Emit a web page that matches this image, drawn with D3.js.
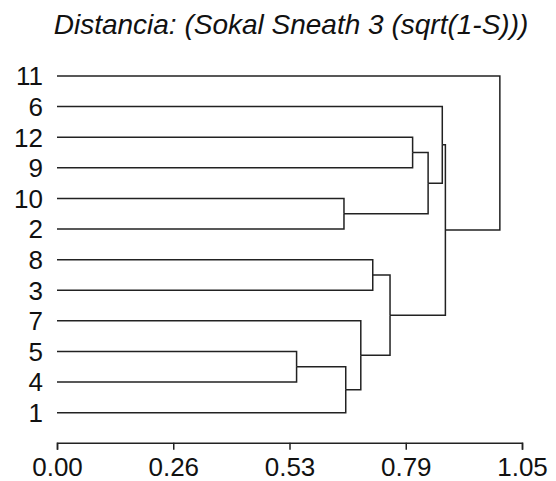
<!DOCTYPE html>
<html>
<head>
<meta charset="utf-8">
<script src="https://cdn.jsdelivr.net/npm/d3@7"></script>
<style>
  body { margin: 0; background: #fff; }
  text { font-family: "Liberation Sans", Arial, sans-serif; fill: #111; }
</style>
</head>
<body>
<div id="chart"></div>
<script>
// leaf order top to bottom
const leaves = ['11', '6', '12', '9', '10', '2', '8', '3', '7', '5', '4', '1'];

// merges: [left, right, height]; numbers point to earlier merges
const merges = [
  ['5', '4', 0.541],
  [0, '1', 0.652],
  ['7', 1, 0.686],
  ['8', '3', 0.713],
  [3, 2, 0.752],
  ['10', '2', 0.648],
  ['12', '9', 0.803],
  [6, 5, 0.838],
  ['6', 7, 0.870],
  [8, 4, 0.877],
  ['11', 9, 1.000]
];

const tickValues = [0, 0.2625, 0.525, 0.7875, 1.05];
const tickLabels = ['0.00', '0.26', '0.53', '0.79', '1.05'];
const title = 'Distancia: (Sokal Sneath 3 (sqrt(1-S)))';

const width = 556, height = 481;

const svg = d3.select('#chart').append('svg')
  .attr('width', width)
  .attr('height', height);

const x = d3.scaleLinear().domain([0, 1.05]).range([57, 522]);
const y = d3.scalePoint().domain(leaves).range([76, 412.7]);

// position of any node (leaf name or merge index)
const nodes = merges.map(() => null);
function pos(k) {
  if (typeof k === 'string') return {h: 0, y: y(k)};
  return nodes[k];
}
merges.forEach((m, i) => {
  const a = pos(m[0]), b = pos(m[1]);
  nodes[i] = {h: m[2], y: (a.y + b.y) / 2};
});

// one elbow per child
const links = [];
merges.forEach((m, i) => {
  [m[0], m[1]].forEach(c => links.push({child: pos(c), parent: nodes[i]}));
});

svg.append('g')
  .selectAll('path')
  .data(links)
  .enter().append('path')
    .attr('d', d => `M${x(d.child.h)},${d.child.y}H${x(d.parent.h)}V${d.parent.y}`)
    .attr('fill', 'none')
    .attr('stroke', '#222')
    .attr('stroke-width', 1.5);

// leaf labels
svg.append('g')
  .selectAll('text')
  .data(leaves)
  .enter().append('text')
    .attr('x', 43)
    .attr('y', d => y(d))
    .attr('dy', '0.36em')
    .attr('text-anchor', 'end')
    .style('font-size', '26px')
    .text(d => d);

// axis
const axis = svg.append('g')
  .attr('transform', 'translate(0,442.7)')
  .call(d3.axisBottom(x)
    .tickValues(tickValues)
    .tickFormat((d, i) => tickLabels[i])
    .tickSize(7)
    .tickPadding(8));
axis.select('.domain').attr('stroke', '#222').attr('stroke-width', 1.5);
axis.selectAll('.tick line').attr('stroke', '#222').attr('stroke-width', 1.5);
axis.selectAll('.tick text')
  .style('font-family', '"Liberation Sans", Arial, sans-serif')
  .style('font-size', '26px')
  .attr('fill', '#111');

// title
svg.append('text')
  .attr('x', 291)
  .attr('y', 34)
  .attr('text-anchor', 'middle')
  .style('font-size', '28px')
  .style('font-style', 'italic')
  .text(title);
</script>
</body>
</html>
